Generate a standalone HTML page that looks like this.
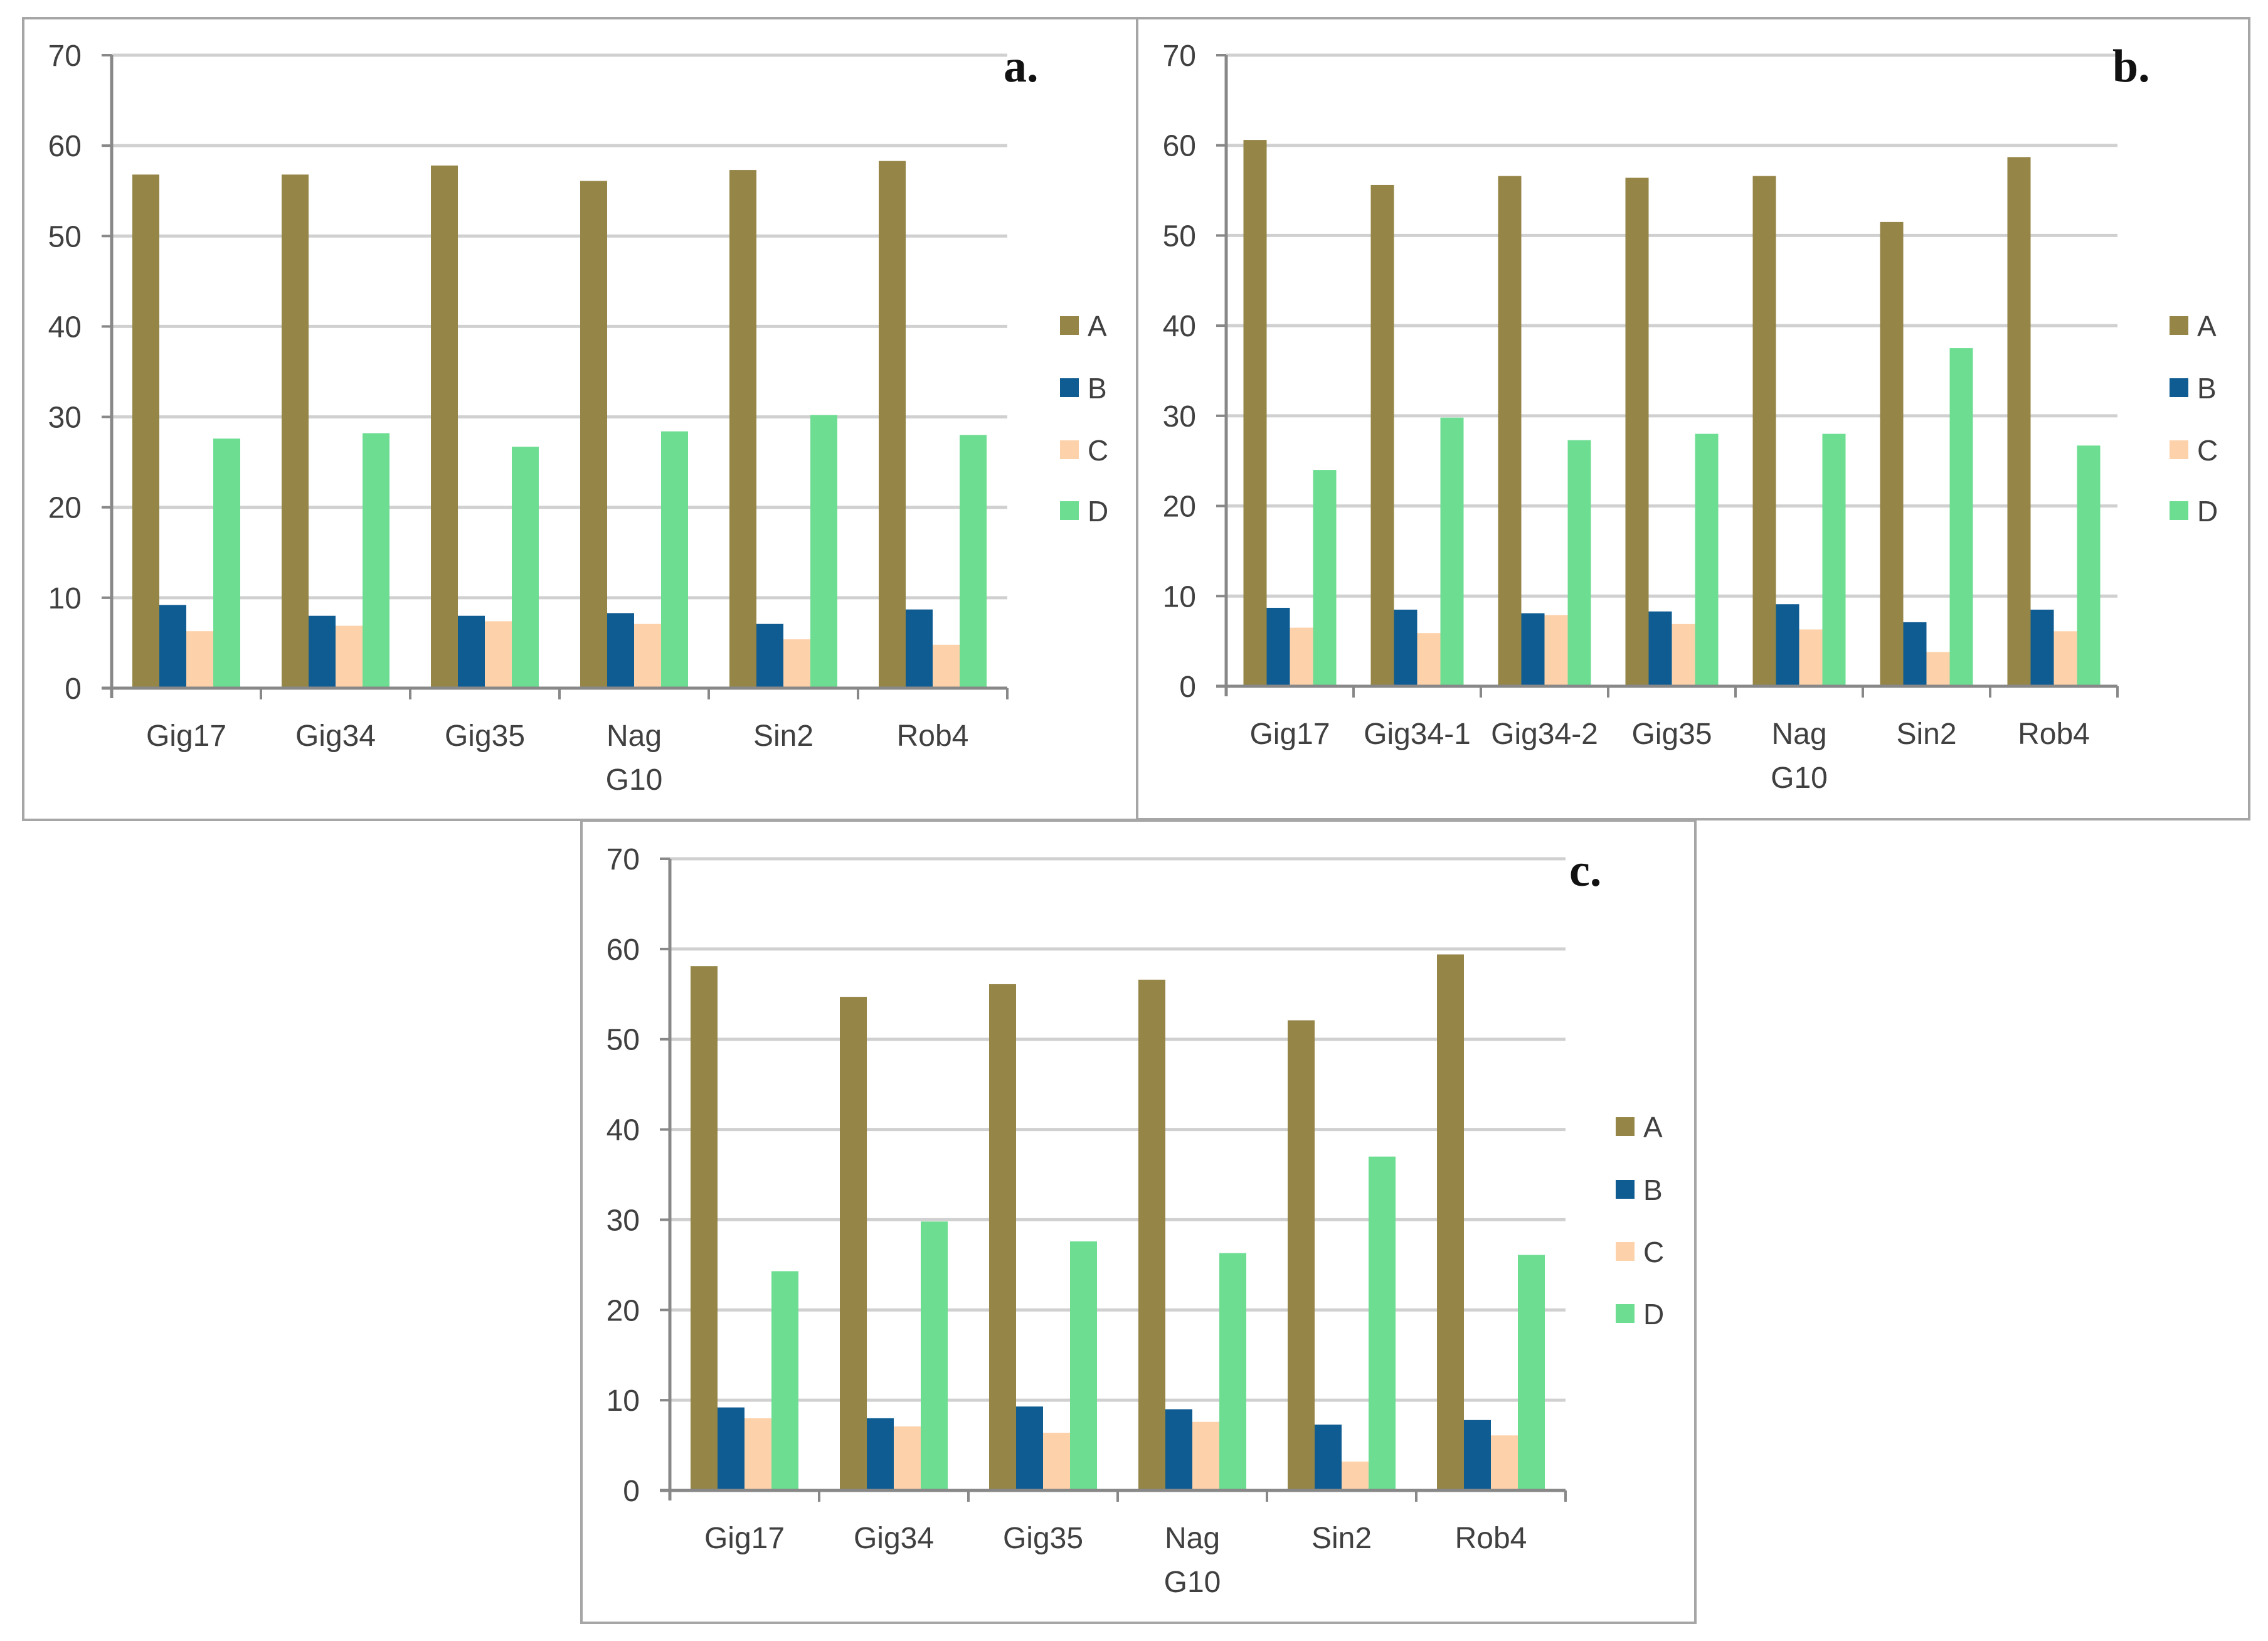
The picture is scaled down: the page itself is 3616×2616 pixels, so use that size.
<!DOCTYPE html>
<html><head><meta charset="utf-8"><style>
html,body{margin:0;padding:0;background:#fff}
svg{display:block}
text{font-family:"Liberation Sans",sans-serif}
text.letter{font-family:"Liberation Serif",serif}
</style></head><body>
<svg id="fig" width="3616" height="2616" viewBox="0 0 3616 2616" xmlns="http://www.w3.org/2000/svg">
<rect width="3616" height="2616" fill="#fff"/>
</svg>
<script>
const seriesNames = ["A","B","C","D"];
const colors = ["#958547","#0f5c92","#fdd2ab","#6ddd92"];
const yTicks = [0,10,20,30,40,50,60,70];

const catsA = ["Gig17","Gig34","Gig35","Nag|G10","Sin2","Rob4"];
const aA = [56.8,56.8,57.8,56.1,57.3,58.3];
const aB = [9.2,8.0,8.0,8.3,7.1,8.7];
const aC = [6.3,6.9,7.4,7.1,5.4,4.8];
const aD = [27.6,28.2,26.7,28.4,30.2,28.0];

const catsB = ["Gig17","Gig34-1","Gig34-2","Gig35","Nag|G10","Sin2","Rob4"];
const bA = [60.6,55.6,56.6,56.4,56.6,51.5,58.7];
const bB = [8.7,8.5,8.1,8.3,9.1,7.1,8.5];
const bC = [6.5,5.9,7.9,6.9,6.3,3.8,6.1];
const bD = [24.0,29.8,27.3,28.0,28.0,37.5,26.7];

const catsC = ["Gig17","Gig34","Gig35","Nag|G10","Sin2","Rob4"];
const cA = [58.1,54.7,56.1,56.6,52.1,59.4];
const cB = [9.2,8.0,9.3,9.0,7.3,7.8];
const cC = [8.0,7.1,6.4,7.6,3.2,6.1];
const cD = [24.3,29.8,27.6,26.3,37.0,26.1];

const NS="http://www.w3.org/2000/svg";
const svg=document.getElementById('fig');
function mk(tag,attrs,parent){const e=document.createElementNS(NS,tag);for(const k in attrs)e.setAttribute(k,attrs[k]);(parent||svg).appendChild(e);return e;}

function panel(id,box,ax,cats,series,letter,letterPos,legend){
  const g=mk('g',{});
  
  
  const frame=mk('rect',{x:box[0],y:box[1],width:box[2]-box[0],height:box[3]-box[1],fill:'none',stroke:'#a6a6a6','stroke-width':4},g);
  
  
  const x0=ax.x0,y0=ax.y0,y70=ax.y70,cw=ax.cw,n=cats.length;
  const xr=x0+cw*n;
  const yS=v=>y0-(v/70)*(y0-y70);
  yTicks.forEach(t=>{
    const y=yS(t);
    if(t>0){const gl=mk('line',{x1:x0,x2:xr,y1:y,y2:y,stroke:'#d0d0d0','stroke-width':5},g);
      
      }
    const tk=mk('line',{x1:x0-16,x2:x0,y1:y,y2:y,stroke:'#888','stroke-width':4},g);
    
    
    const tl=mk('text',{x:x0-48,y:y+17,'text-anchor':'end','font-size':48,fill:'#404040'},g);
    tl.textContent=t;
    
    
  });
  const bw=ax.bw, pad=(cw-4*bw)/2;
  cats.forEach((c,i)=>{
    series.forEach((s,j)=>{
      const x=x0+i*cw+pad+j*bw, y=yS(s[i]);
      const r=mk('rect',{x:x,y:y,width:bw,height:y0-y,fill:colors[j]},g);
      
      
    });
    const parts=c.split('|');
    parts.forEach((p,k)=>{
      const t=mk('text',{x:x0+i*cw+cw/2,y:y0+92+k*70,'text-anchor':'middle','font-size':48,fill:'#404040'},g);
      t.textContent=p;
      
      
    });
  });
  const xa=mk('line',{x1:x0-16,x2:xr,y1:y0,y2:y0,stroke:'#888','stroke-width':5},g);
  
  
  const ya=mk('line',{x1:x0,x2:x0,y1:y70,y2:y0+16,stroke:'#888','stroke-width':5},g);
  
  
  for(let i=1;i<=n;i++){
    const tk=mk('line',{x1:x0+i*cw,x2:x0+i*cw,y1:y0,y2:y0+18,stroke:'#888','stroke-width':4},g);
    
    
  }
  seriesNames.forEach((s,j)=>{
    const ly=legend.y[j];
    const sq=mk('rect',{x:legend.x,y:ly-15,width:30,height:30,fill:colors[j]},g);
    
    
    const lt=mk('text',{x:legend.x+44,y:ly+17,'font-size':46,fill:'#404040'},g);
    lt.textContent=s;
    
    
  });
  const L=mk('text',{x:letterPos[0],y:letterPos[1],'font-size':74,'font-weight':'bold',fill:'#111','class':'letter'},g);
  L.setAttribute('style','font-family:"Liberation Serif",serif');
  L.textContent=letter;
  
  
}

panel('a',[37,29,1813,1307],{x0:178,y0:1097,y70:88,cw:238,bw:43},catsA,[aA,aB,aC,aD],'a.',[1600,130],{x:1690,y:[519,618,717,814]});
panel('b',[1813,29,3586,1306],{x0:1955,y0:1094,y70:88,cw:203,bw:37},catsB,[bA,bB,bC,bD],'b.',[3368,130],{x:3459,y:[519,618,717,814]});
panel('c',[927,1308,2703,2587],{x0:1068,y0:2376,y70:1369,cw:238,bw:43},catsC,[cA,cB,cC,cD],'c.',[2502,1412],{x:2576,y:[1796,1896,1995,2094]});
</script>
</body></html>
